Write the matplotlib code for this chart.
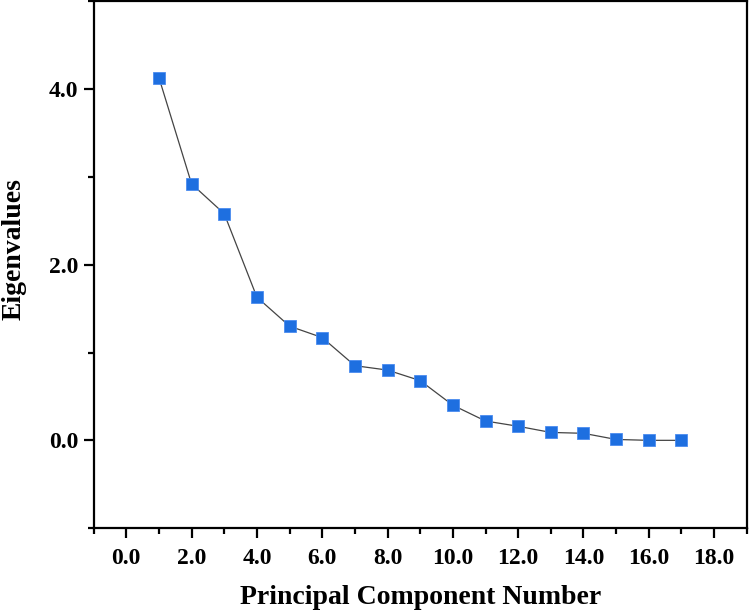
import matplotlib
matplotlib.use('Agg')
import matplotlib.pyplot as plt
from matplotlib.ticker import MultipleLocator, FormatStrFormatter

# ── Data ─────────────────────────────────────────────────────────────────────
components  = [1, 2, 3, 4, 5, 6, 7, 8, 9, 10, 11, 12, 13, 14, 15, 16, 17]
eigenvalues = [4.13, 2.92, 2.58, 1.63, 1.30, 1.17, 0.85, 0.80, 0.68,
               0.40, 0.22, 0.16, 0.09, 0.08, 0.01, 0.00, 0.00]

plt.rcParams['font.family'] = ['Liberation Serif', 'DejaVu Serif']
plt.rcParams['font.weight'] = 'bold'

fig = plt.figure(figsize=(7.49, 6.12), dpi=100)
ax = fig.add_axes([0.125, 0.137, 0.872, 0.861])

ax.plot(components, eigenvalues, color='#444444', linewidth=0.9,
        marker='s', markersize=8.5, markerfacecolor='#1e6fe0',
        markeredgecolor='#4a8cf0', markeredgewidth=0.6)

ax.set_xlim(-1, 19)
ax.set_ylim(-1, 5)
ax.xaxis.set_major_locator(MultipleLocator(2))
ax.xaxis.set_minor_locator(MultipleLocator(1))
ax.yaxis.set_major_locator(MultipleLocator(2))
ax.yaxis.set_minor_locator(MultipleLocator(1))
ax.xaxis.set_major_formatter(FormatStrFormatter('%.1f'))
ax.yaxis.set_major_formatter(FormatStrFormatter('%.1f'))

for s in ax.spines.values():
    s.set_linewidth(1.6)
ax.tick_params(which='major', direction='out', length=7, width=1.6,
               labelsize=17, pad=7)
ax.tick_params(axis='y', which='major', pad=4)
ax.tick_params(which='minor', direction='out', length=4, width=1.6)
ax.tick_params(top=False, right=False, which='both')

ax.set_xlabel("Principal Component Number", fontsize=20, fontweight='bold', labelpad=12)
ax.set_ylabel("Eigenvalues", fontsize=20, fontweight='bold')
ax.yaxis.set_label_coords(-0.102, 0.53)

fig.savefig("out.png", dpi=100)
